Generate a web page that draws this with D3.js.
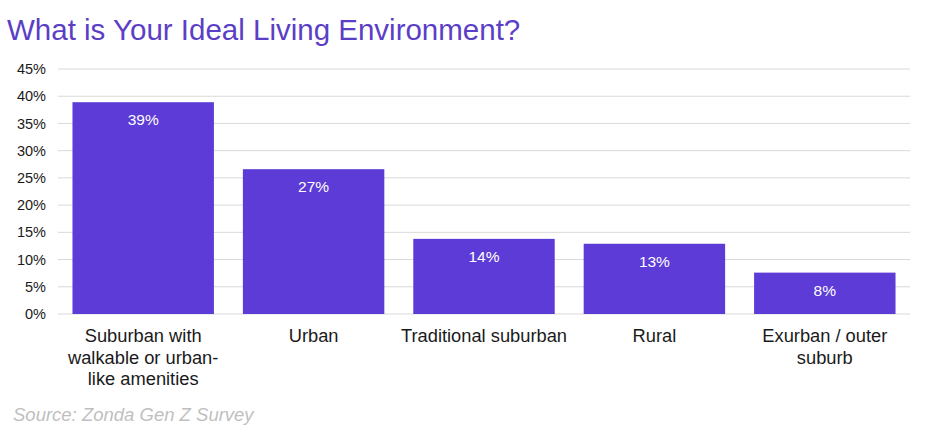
<!DOCTYPE html>
<html>
<head>
<meta charset="utf-8">
<script src="https://cdn.jsdelivr.net/npm/d3@7"></script>
<style>
  body { margin: 0; background: #fff; }
  svg { display: block; font-family: "Liberation Sans", Arial, sans-serif; }
</style>
</head>
<body>
<div id="chart"></div>
<script>
const categories = [
  ["Suburban with", "walkable or urban-", "like amenities"],
  ["Urban"],
  ["Traditional suburban"],
  ["Rural"],
  ["Exurban / outer", "suburb"]
];
const values = [38.9, 26.6, 13.8, 12.9, 7.6];
const valueLabels = ["39%", "27%", "14%", "13%", "8%"];
const yTicks = [0, 5, 10, 15, 20, 25, 30, 35, 40, 45];

(function ideal_living() {
  const width = 936, height = 425;
  const margin = { top: 69, right: 26, bottom: 111, left: 58 };

  const svg = d3.select("#chart")
    .append("svg")
    .attr("width", width)
    .attr("height", height);

  svg.append("text")
    .attr("x", 7)
    .attr("y", 40)
    .attr("fill", "#5b3ec6")
    .attr("font-size", 29.5)
    .text("What is Your Ideal Living Environment?");

  const x = d3.scaleBand()
    .domain(d3.range(values.length))
    .range([margin.left, width - margin.right])
    .paddingInner(0.17)
    .paddingOuter(0.085);

  const y = d3.scaleLinear()
    .domain([0, 45])
    .range([height - margin.bottom, margin.top]);

  // gridlines
  svg.append("g")
    .selectAll("line")
    .data(yTicks)
    .join("line")
    .attr("x1", margin.left)
    .attr("x2", width - margin.right)
    .attr("y1", d => y(d))
    .attr("y2", d => y(d))
    .attr("stroke", "#d9d9d9")
    .attr("stroke-width", 1);

  // y axis labels
  const yAxis = d3.axisLeft(y)
    .tickValues(yTicks)
    .tickFormat(d => d + "%")
    .tickSize(0)
    .tickPadding(12);

  svg.append("g")
    .attr("transform", `translate(${margin.left},0)`)
    .call(yAxis)
    .call(g => g.select(".domain").remove())
    .call(g => g.selectAll("text")
      .attr("font-size", 14.5)
      .attr("fill", "#1a1a1a")
      .attr("font-family", "Liberation Sans, Arial, sans-serif"));

  svg.append("g")
    .selectAll("rect")
    .data(values)
    .join("rect")
    .attr("x", (d, i) => x(i))
    .attr("width", x.bandwidth())
    .attr("y", d => y(d))
    .attr("height", d => y(0) - y(d))
    .attr("fill", "#5c3bd6");

  svg.append("g")
    .selectAll("text")
    .data(values)
    .join("text")
    .attr("x", (d, i) => x(i) + x.bandwidth() / 2)
    .attr("y", d => y(d) + 23)
    .attr("text-anchor", "middle")
    .attr("fill", "#fff")
    .attr("font-size", 15.5)
    .text((d, i) => valueLabels[i]);

  // category labels
  const cat = svg.append("g")
    .selectAll("text")
    .data(categories)
    .join("text")
    .attr("text-anchor", "middle")
    .attr("font-size", 18.3)
    .attr("fill", "#1a1a1a")
    .attr("x", (d, i) => x(i) + x.bandwidth() / 2)
    .attr("y", y(0) + 28);

  cat.selectAll("tspan")
    .data(d => d)
    .join("tspan")
    .attr("x", function () { return this.parentNode.getAttribute("x"); })
    .attr("dy", (d, i) => i === 0 ? 0 : 21.5)
    .text(d => d);

  svg.append("text")
    .attr("x", 13)
    .attr("y", 421)
    .attr("fill", "#bfbfbf")
    .attr("font-size", 18.5)
    .attr("font-style", "italic")
    .text("Source: Zonda Gen Z Survey");
})();
</script>
</body>
</html>
